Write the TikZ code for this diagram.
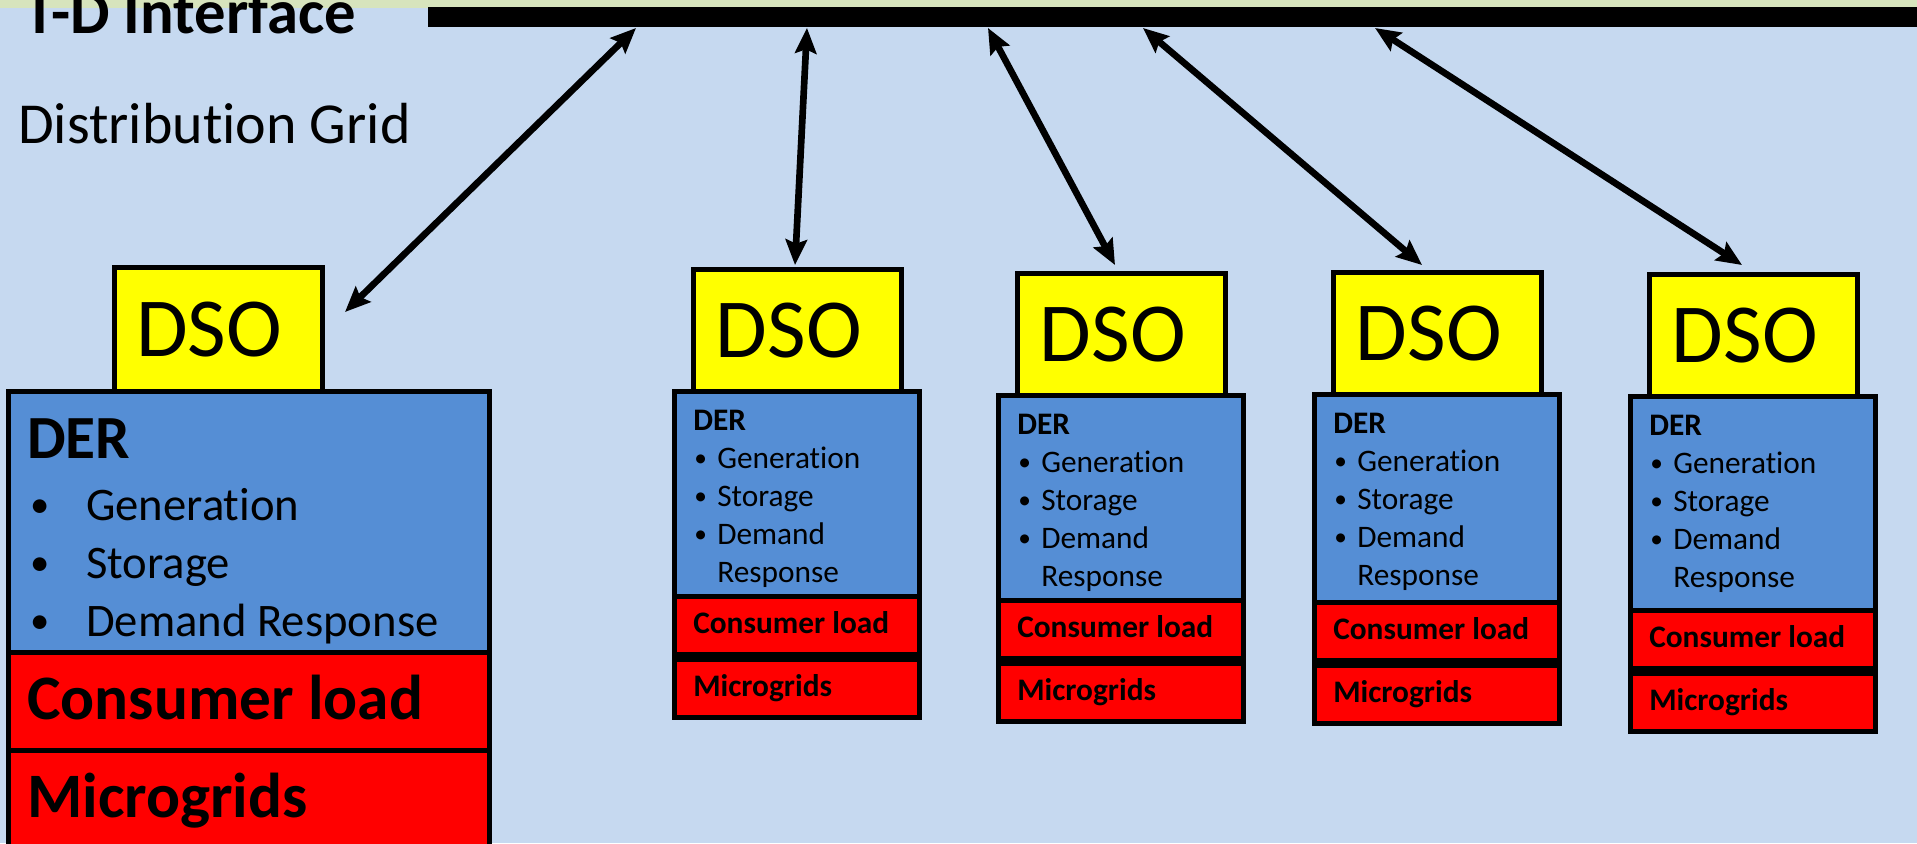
\documentclass[tikz,border=0pt]{standalone}
\usepackage{fontspec}
\setmainfont{Carlito}[Ligatures=CommonOff,RawFeature={-liga}]
\usetikzlibrary{arrows.meta}
\definecolor{bgblue}{HTML}{C6D9F0}
\definecolor{bandgreen}{HTML}{D7E4BD}
\definecolor{derblue}{HTML}{558ED5}
\definecolor{dsoyellow}{HTML}{FFFF00}
\definecolor{loadred}{HTML}{FF0000}
\newcommand\pu{0.75pt}
\newcommand\smallfont{\fontsize{23.5}{28}\selectfont}
\newcommand\smallbul{\fontsize{19}{28}\selectfont}
\newcommand\smallblk[4]{% #1 id, #2 DER left x, #3 DSO top y, #4 DER height
  \node[derbox, minimum width=245*\pu, minimum height=#4*\pu] (der#1) at (#2,#3+122) {};
  \node[dsobox, minimum width=208*\pu, minimum height=122*\pu] (dso#1) at (#2+19,#3) {};
  \node[dsotxt] (dsolbl#1) at ([xshift=-6.5pt]dso#1.center) {DSO};
  \node[redbox, minimum width=245*\pu, minimum height=58*\pu] (cons#1) at (#2,#3+122+#4) {};
  \node[redbox, minimum width=245*\pu, minimum height=58*\pu] (micro#1) at (#2,#3+122+#4+63) {};
  \node[txt, font=\smallfont\bfseries] (derlbl#1) at (#2+21,#3+122+41) {DER};
  \node[txt, font=\smallbul] (bga#1) at (#2+22,#3+122+77) {•};
  \node[txt, font=\smallfont] (gen#1) at (#2+45,#3+122+79) {Generation};
  \node[txt, font=\smallbul] (bgb#1) at (#2+22,#3+122+115) {•};
  \node[txt, font=\smallfont] (sto#1) at (#2+45,#3+122+117) {Storage};
  \node[txt, font=\smallbul] (bgc#1) at (#2+22,#3+122+153) {•};
  \node[txt, font=\smallfont] (dem#1) at (#2+45,#3+122+155) {Demand};
  \node[txt, font=\smallfont] (resp#1) at (#2+45,#3+122+193) {Response};
  \node[txt, font=\smallfont\bfseries] (conslbl#1) at (#2+21,#3+122+#4+39) {Consumer load};
  \node[txt, font=\smallfont\bfseries] (microlbl#1) at (#2+21,#3+122+#4+63+39) {Microgrids};
}
\begin{document}
\begin{tikzpicture}[x=0.75pt,y=-0.75pt,
  box/.style={draw=black, line width=3.6pt, inner sep=0pt, anchor=north west},
  dsobox/.style={box, fill=dsoyellow},
  dsotxt/.style={inner sep=0pt, font=\fontsize{63}{63}\selectfont},
  derbox/.style={box, fill=derblue},
  redbox/.style={box, fill=loadred},
  txt/.style={anchor=base west, inner sep=0pt},
  bigbul/.style={txt, font=\fontsize{29}{35}\selectfont},
  link/.style={line width=5pt, {Stealth[length=19pt,width=16pt,inset=3pt]}-{Stealth[length=19pt,width=16pt,inset=3pt]}}]
\useasboundingbox (0,0) rectangle (1917,843);
\clip (0,0) rectangle (1917,843);
\fill[bgblue] (0,0) rectangle (1917,843);
\fill[bandgreen] (0,0) rectangle (1917,8);

% title texts
\node[txt, font=\bfseries\fontsize{47}{47}\selectfont] (title) at (24,33) {T-D Interface};
\node[txt, font=\fontsize{43.5}{44}\selectfont] (dist) at (18,143) {Distribution Grid};

% bus bar
\coordinate (barL) at (428,17);
\coordinate (barR) at (1930,17);
\draw[line width=14.5pt] (barL) -- (barR);

% left large block
\node[derbox, minimum width=481*\pu, minimum height=261*\pu] (der1) at (6,389) {};
\node[dsobox, minimum width=208*\pu, minimum height=124*\pu] (dso1) at (112,265) {};
\node[dsotxt] (dsolbl1) at ([xshift=-7pt]dso1.center) {DSO};
\node[redbox, minimum width=481*\pu, minimum height=98*\pu] (cons1) at (6,650) {};
\node[redbox, minimum width=481*\pu, minimum height=120*\pu] (micro1) at (6,748) {};
\node[txt, font=\bfseries\fontsize{46}{46}\selectfont] (derlbl1) at (27,458) {DER};
\node[bigbul] (bga1) at (30,517) {•};
\node[txt, font=\fontsize{35}{35}\selectfont] (gen1) at (86,520) {Generation};
\node[bigbul] (bgb1) at (30,575) {•};
\node[txt, font=\fontsize{35}{35}\selectfont] (sto1) at (86,578) {Storage};
\node[bigbul] (bgc1) at (30,633) {•};
\node[txt, font=\fontsize{35}{35}\selectfont] (dem1) at (86,636) {Demand Response};
\node[txt, font=\bfseries\fontsize{47.5}{47}\selectfont] (conslbl1) at (27,719) {Consumer load};
\node[txt, font=\bfseries\fontsize{47.5}{47}\selectfont] (microlbl1) at (27,817) {Microgrids};

% small blocks
\smallblk{2}{672}{267}{205}
\smallblk{3}{996}{271}{205}
\smallblk{4}{1312}{270}{208}
\smallblk{5}{1628}{272}{214}

% connectors
\coordinate (s1) at (636,28);
\coordinate (e1) at (345,312);
\coordinate (s2) at (807,28);
\coordinate (e2) at (795,265);
\coordinate (s3) at (988,28);
\coordinate (e3) at (1115,265);
\coordinate (s4) at (1143,28);
\coordinate (e4) at (1422,265);
\coordinate (s5) at (1375,28);
\coordinate (e5) at (1742,265);
\draw[link] (s1) -- (e1);
\draw[link] (s2) -- (e2);
\draw[link] (s3) -- (e3);
\draw[link] (s4) -- (e4);
\draw[link] (s5) -- (e5);
\end{tikzpicture}
\end{document}
